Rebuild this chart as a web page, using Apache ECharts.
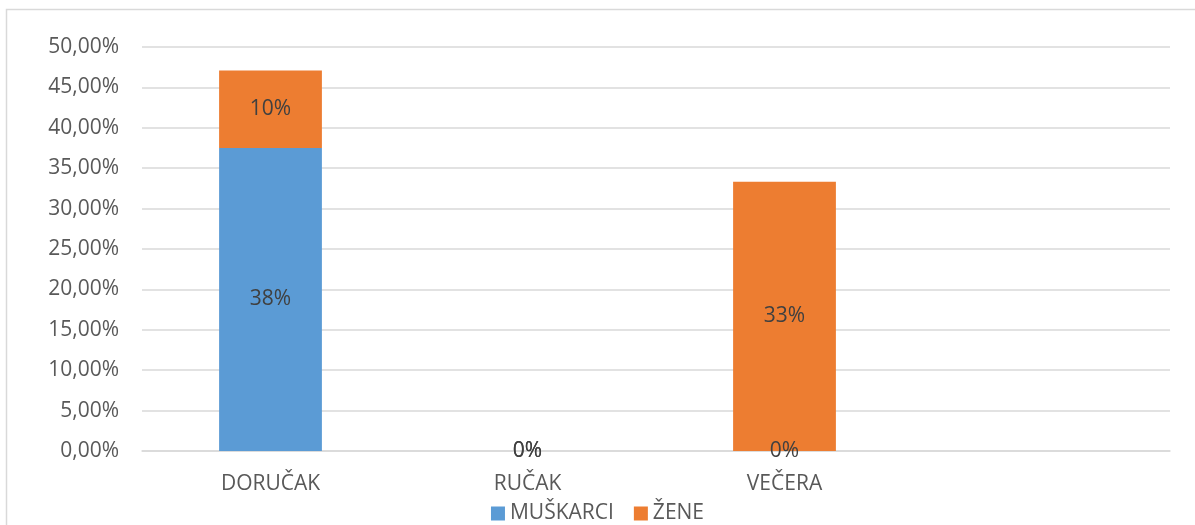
<!DOCTYPE html>
<html>
<head>
<meta charset="utf-8">
<script src="https://cdn.jsdelivr.net/npm/echarts@6/dist/echarts.min.js"></script>
<style>
  html, body { margin: 0; padding: 0; background: #fff; }
  #chart { width: 1195px; height: 525px; }
</style>
</head>
<body>
<div id="chart"></div>
<script>
// obroci po spolu, vrijednosti u %
const categories = ['DORUČAK', 'RUČAK', 'VEČERA', '']
const muskarci = [37.5, 0, 0, null]
const zene = [9.6, 0, 33.33, null]
const yTicks = { min: 0, max: 50, interval: 5 }

const FONT = '"Open Sans", "Liberation Sans", sans-serif'
const chart = echarts.init(document.getElementById('chart'))

const pctLabel = {
  show: true,
  position: 'inside',
  color: '#404040',
  fontSize: 21,
  fontFamily: FONT,
  padding: [5, 0, 0, 0],
  formatter: (p) => (p.value == null ? '' : Math.round(p.value) + '%'),
}

chart.setOption({
  animation: false,
  textStyle: { fontFamily: FONT },
  graphic: [
    {
      type: 'rect',
      shape: { x: 6.5, y: 9.5, width: 1200, height: 530 },
      style: { fill: 'none', stroke: '#d9d9d9', lineWidth: 1.5 },
      silent: true,
    },
  ],
  grid: { left: 142, right: 25, top: 47, bottom: 74 },
  legend: {
    left: 'center',
    top: 498,
    icon: 'rect',
    itemWidth: 14,
    itemHeight: 14,
    itemGap: 20,
    textStyle: { color: '#595959', fontSize: 21, fontFamily: FONT },
    data: ['MUŠKARCI', 'ŽENE'],
  },
  xAxis: {
    type: 'category',
    data: categories,
    axisLine: { lineStyle: { color: '#d9d9d9', width: 1.5 } },
    axisTick: { show: false },
    axisLabel: { color: '#595959', fontSize: 21, margin: 23, fontFamily: FONT },
  },
  yAxis: {
    type: 'value',
    min: yTicks.min,
    max: yTicks.max,
    interval: yTicks.interval,
    axisLine: { show: false },
    axisTick: { show: false },
    splitLine: { lineStyle: { color: '#d9d9d9', width: 1.5 } },
    axisLabel: {
      color: '#595959',
      fontSize: 21,
      margin: 23,
      fontFamily: FONT,
      padding: [4, 0, 0, 0],
      formatter: (v) => v.toFixed(2).replace('.', ',') + '%',
    },
  },
  series: [
    {
      name: 'MUŠKARCI',
      type: 'bar',
      stack: 'ukupno',
      barWidth: '40%',
      data: muskarci,
      itemStyle: { color: '#5b9bd5' },
      label: pctLabel,
    },
    {
      name: 'ŽENE',
      type: 'bar',
      stack: 'ukupno',
      barWidth: '40%',
      data: zene,
      itemStyle: { color: '#ed7d31' },
      label: pctLabel,
    },
  ],
})
</script>
</body>
</html>
